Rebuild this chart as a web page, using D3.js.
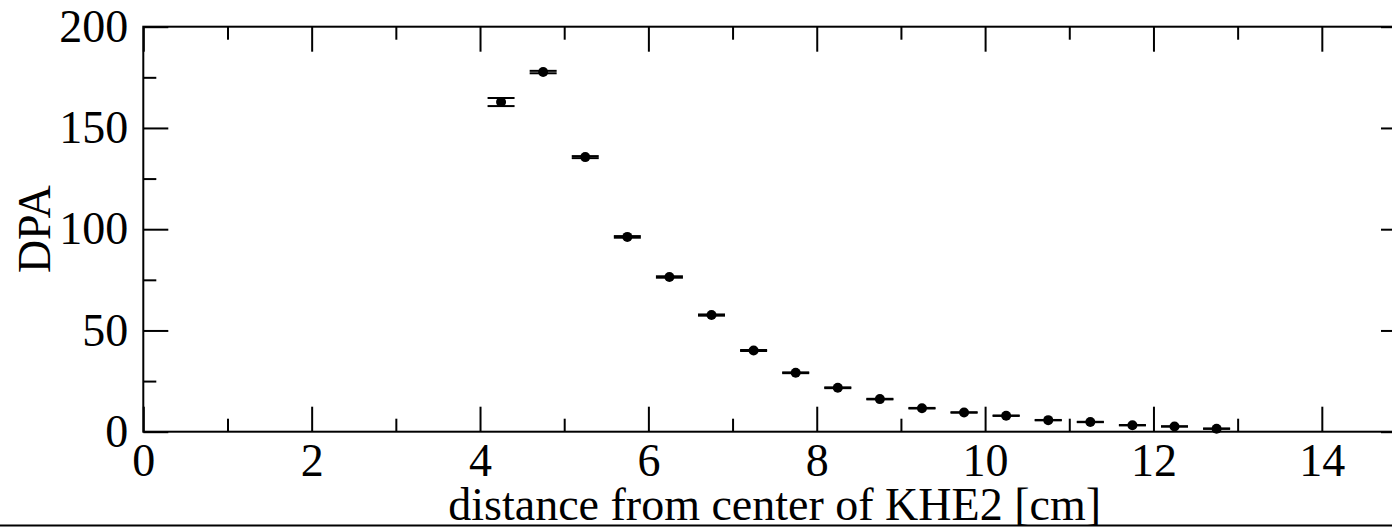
<!DOCTYPE html>
<html>
<head>
<meta charset="utf-8">
<script src="https://cdn.jsdelivr.net/npm/d3@7"></script>
<style>
  html, body { margin: 0; padding: 0; background: #fff; }
  svg { display: block; }
  .frame { fill: none; stroke: #000; stroke-width: 2; }
  .tick line { stroke: #000; stroke-width: 2; }
  .tick text { font-family: "Liberation Serif", "Times New Roman", serif; font-size: 46px; fill: #000; }
  .title { font-family: "Liberation Serif", "Times New Roman", serif; font-size: 46px; fill: #000; }
</style>
</head>
<body>
<script>
// distance from center of KHE2 [cm]
var distance = [4.25, 4.75, 5.25, 5.75, 6.25, 6.75, 7.25, 7.75, 8.25,
                8.75, 9.25, 9.75, 10.25, 10.75, 11.25, 11.75, 12.25, 12.75];
// DPA values
var dpa = [162.8, 177.6, 135.6, 96.2, 76.4, 57.6, 40.1, 29.1, 21.7,
           16.1, 11.6, 9.5, 7.9, 5.7, 4.8, 3.2, 2.6, 1.5];
// DPA uncertainty (half width)
var dpaErr = [2.0, 0.6, 0.5, 0.4, 0.35, 0.3, 0.25, 0.2, 0.2,
              0.15, 0.15, 0.1, 0.1, 0.1, 0.1, 0.1, 0.1, 0.1];

var xMajorTicks = [0, 2, 4, 6, 8, 10, 12, 14];
var xMinorTicks = [1, 3, 5, 7, 9, 11, 13, 15];
var yMajorTicks = [0, 50, 100, 150, 200];
var yMinorTicks = [25, 75, 125, 175];

var stage = { width: 1392, height: 529 };
var plot = { left: 143.3, right: 1406, top: 26.7, bottom: 431.7 };

var points = distance.map(function(d, i) {
    return { x: d, y: dpa[i], e: dpaErr[i] };
});

var x = d3.scaleLinear().domain([0, 15]).range([plot.left, plot.right]);
var y = d3.scaleLinear().domain([0, 200]).range([plot.bottom, plot.top]);

var svg = d3.select('body').append('svg')
    .attr('width', stage.width)
    .attr('height', stage.height);

svg.append('rect')
    .attr('width', stage.width)
    .attr('height', stage.height)
    .attr('fill', '#fff');

// AXES (ticks pointing inward on all four sides)
var addAxis = function(axis, tx, ty) {
    var g = svg.append('g')
        .attr('transform', 'translate(' + tx + ',' + ty + ')')
        .call(axis);
    g.select('.domain').remove();
    return g;
};

addAxis(d3.axisBottom(x).tickValues(xMajorTicks).tickSize(-25).tickPadding(12)
    .tickFormat(d3.format('d')), 0, plot.bottom);
addAxis(d3.axisBottom(x).tickValues(xMinorTicks).tickSize(-13).tickFormat(''), 0, plot.bottom);
addAxis(d3.axisTop(x).tickValues(xMajorTicks).tickSize(-25).tickFormat(''), 0, plot.top);
addAxis(d3.axisTop(x).tickValues(xMinorTicks).tickSize(-13).tickFormat(''), 0, plot.top);

addAxis(d3.axisLeft(y).tickValues(yMajorTicks).tickSize(-25).tickPadding(15)
    .tickFormat(d3.format('d')), plot.left, 0);
addAxis(d3.axisLeft(y).tickValues(yMinorTicks).tickSize(-13).tickFormat(''), plot.left, 0);
addAxis(d3.axisRight(y).tickValues(yMajorTicks).tickSize(-25).tickFormat(''), plot.right, 0);
addAxis(d3.axisRight(y).tickValues(yMinorTicks).tickSize(-13).tickFormat(''), plot.right, 0);

// FRAME
svg.append('rect')
    .attr('class', 'frame')
    .attr('x', plot.left)
    .attr('y', plot.top)
    .attr('width', plot.right - plot.left)
    .attr('height', plot.bottom - plot.top);

// ERROR BARS
var capHalf = 13.5;
var bars = svg.append('g')
    .attr('stroke', '#000')
    .attr('stroke-width', 2)
    .selectAll('g').data(points).enter()
    .append('g');

bars.append('line')
    .attr('x1', function(d) { return x(d.x); })
    .attr('x2', function(d) { return x(d.x); })
    .attr('y1', function(d) { return y(d.y - d.e); })
    .attr('y2', function(d) { return y(d.y + d.e); });

[-1, 1].forEach(function(s) {
    bars.append('line')
        .attr('x1', function(d) { return x(d.x) - capHalf; })
        .attr('x2', function(d) { return x(d.x) + capHalf; })
        .attr('y1', function(d) { return y(d.y + s * d.e); })
        .attr('y2', function(d) { return y(d.y + s * d.e); });
});

// MARKERS
svg.append('g')
    .selectAll('circle').data(points).enter()
    .append('circle')
    .attr('cx', function(d) { return x(d.x); })
    .attr('cy', function(d) { return y(d.y); })
    .attr('r', 5)
    .attr('fill', '#000');

// TITLES
svg.append('text')
    .attr('class', 'title')
    .attr('x', (plot.left + plot.right) / 2)
    .attr('y', 520)
    .attr('text-anchor', 'middle')
    .text('distance from center of KHE2 [cm]');

svg.append('text')
    .attr('class', 'title')
    .attr('transform', 'translate(50,' + (plot.top + plot.bottom) / 2 + ') rotate(-90)')
    .attr('text-anchor', 'middle')
    .text('DPA');

// bottom rule
svg.append('line')
    .attr('x1', 0)
    .attr('x2', stage.width)
    .attr('y1', 525.5)
    .attr('y2', 525.5)
    .attr('stroke', '#000')
    .attr('stroke-width', 2);
</script>
</body>
</html>
